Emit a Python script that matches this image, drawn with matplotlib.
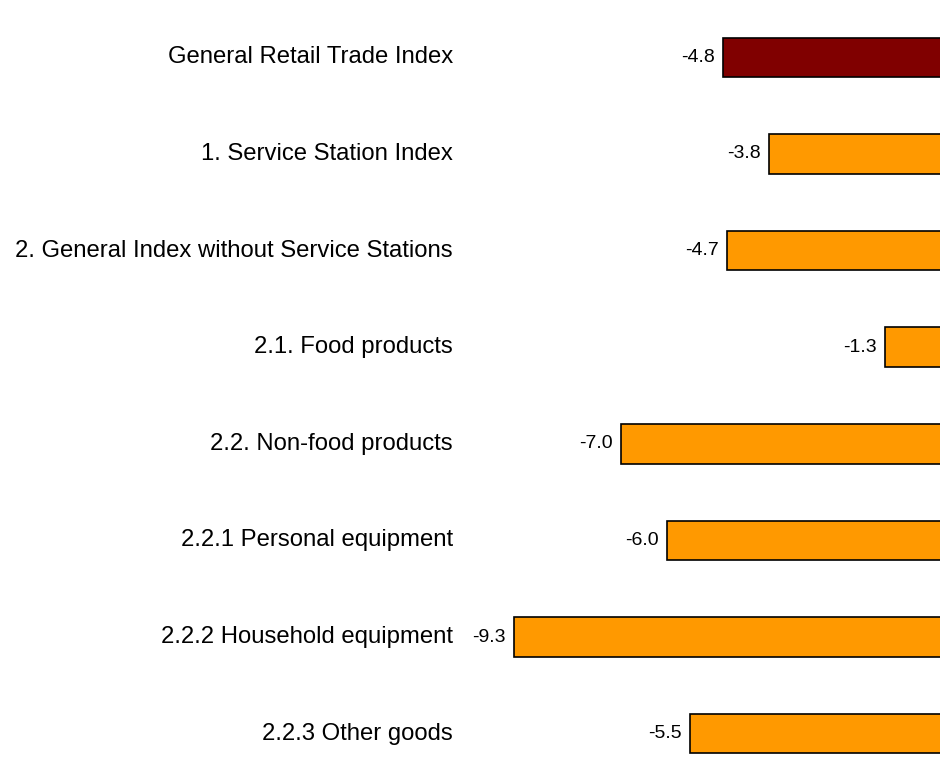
import matplotlib.pyplot as plt

categories = [
    "General Retail Trade Index",
    "1. Service Station Index",
    "2. General Index without Service Stations",
    "2.1. Food products",
    "2.2. Non-food products",
    "2.2.1 Personal equipment",
    "2.2.2 Household equipment",
    "2.2.3 Other goods",
]
values = [-4.8, -3.8, -4.7, -1.3, -7.0, -6.0, -9.3, -5.5]
colors = ["#800000"] + ["#FF9900"] * 7

plt.rcParams['font.family'] = ['Liberation Sans', 'DejaVu Sans']

W, H = 940, 778
fig = plt.figure(figsize=(W / 100, H / 100), dpi=100)

# axes in pixel terms: zero line sits just off the right edge
x0, x1 = 480, 945
ytop, ybot = 9, 782
ax = fig.add_axes([x0 / W, 1 - ybot / H, (x1 - x0) / W, (ybot - ytop) / H])

ypos = list(range(len(categories)))
ax.barh(ypos, values, height=0.41, color=colors, edgecolor="black", linewidth=1.2)
ax.set_xlim(-(x1 - x0) / 46.3, 0)
ax.set_ylim(len(categories) - 0.5, -0.5)
ax.axis("off")

for y, v, c in zip(ypos, values, categories):
    ax.annotate(f"{v:.1f}", (v, y), xytext=(-6, 0), textcoords="offset points",
                ha="right", va="center", fontsize=14)
    ax.annotate(c, (0, y), xycoords=("figure fraction", "data"),
                xytext=(453, 0), textcoords="offset pixels",
                ha="right", va="center", fontsize=17.2)

fig.savefig("out.png", dpi=100)
